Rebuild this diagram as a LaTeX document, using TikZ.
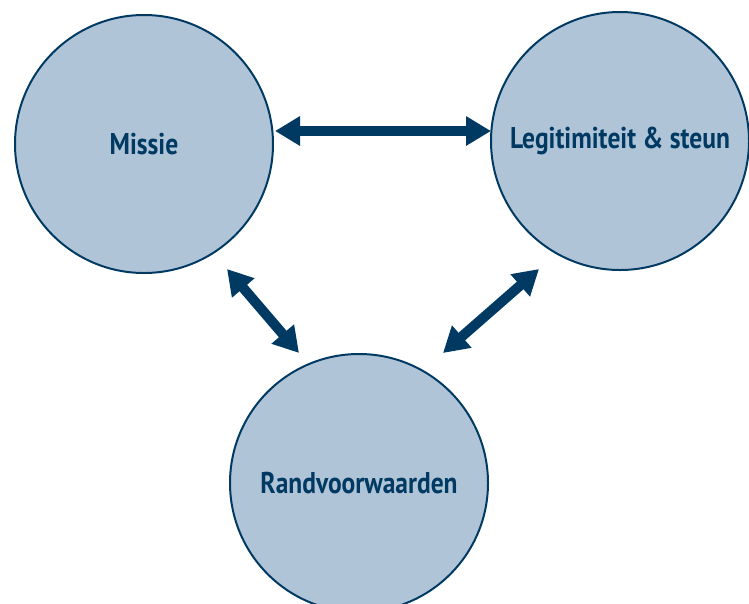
\documentclass[tikz,border=0pt]{standalone}
\usepackage{fontspec}
\setmainfont[FakeStretch=0.85]{PT Sans}
\usetikzlibrary{arrows.meta}
\definecolor{navy}{HTML}{003A63}
\definecolor{pale}{HTML}{B0C4D8}
\tikzset{
  bubble/.style={circle, draw=navy, line width=2pt, fill=pale, minimum size=258pt, inner sep=0pt,
    text=navy, font=\fontsize{30}{34}\selectfont\bfseries},
  link/.style={draw=navy, line width=10pt, {Triangle[width=28pt,length=25pt]}-{Triangle[width=28pt,length=25pt]}}
}
\begin{document}
\begin{tikzpicture}[x=1pt,y=-1pt]
\useasboundingbox (0,0) rectangle (749,603);
\node[bubble] (m) at (144,144) {Missie};
\node[bubble] (l) at (620,141) {Legitimiteit \& steun};
\node[bubble] (r) at (359,483) {Randvoorwaarden};
\coordinate (h1) at (275,131);
\coordinate (h2) at (491,131);
\coordinate (a1) at (227,269);
\coordinate (a2) at (299,353);
\coordinate (b1) at (539,269);
\coordinate (b2) at (443,353);
\draw[link] (h1) -- (h2);
\draw[link] (a1) -- (a2);
\draw[link] (b1) -- (b2);
\end{tikzpicture}
\end{document}
